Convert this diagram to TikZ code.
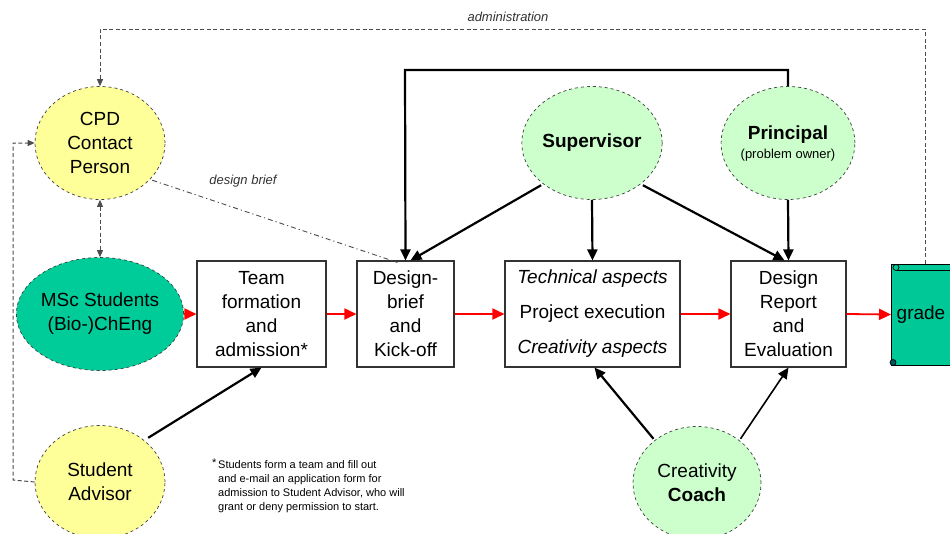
\documentclass[tikz,border=0pt]{standalone}
\usepackage{fontspec}
\setmainfont{Liberation Sans}
\usetikzlibrary{arrows.meta,shapes.geometric}

\definecolor{cpdyellow}{HTML}{FFFF99}
\definecolor{mscteal}{HTML}{00CC99}
\definecolor{paleleaf}{HTML}{CCFFCC}
\definecolor{scrollteal}{HTML}{00C896}

\begin{document}
\begin{tikzpicture}[x=1pt,y=-1pt,
  bubble/.style={ellipse, draw=black!75, dashed, line width=0.7pt,
    minimum width=130pt, minimum height=113pt, inner sep=0pt, align=center,
    font=\fontsize{19}{24}\selectfont},
  stagebox/.style={rectangle, draw=black!80, line width=1.1pt, fill=white,
    inner sep=0pt, align=center, minimum height=106pt,
    font=\fontsize{19}{24}\selectfont},
  flow/.style={draw=red, line width=1.8pt, -{Triangle[length=12pt,width=11pt]}},
  push/.style={draw=black, line width=2.2pt, -{Triangle[length=11pt,width=10pt]}},
  admin/.style={draw=black!70, line width=0.8pt, dash pattern=on 4pt off 2.5pt},
  smalltip/.style={-{Triangle[length=7pt,width=6pt]}},
  note/.style={font=\fontsize{13}{15}\selectfont\itshape, text=black!80}
]
\useasboundingbox (0,0) rectangle (950,533);

% people
\node[bubble, fill=cpdyellow] (cpd) at (100,143) {CPD\\Contact\\Person};
\node[bubble, fill=mscteal] (msc) at (100,314) {MSc Students\\(Bio-)ChEng};
\node[bubble, fill=cpdyellow] (adv) at (100,482) {Student\\Advisor};
\node[bubble, fill=paleleaf] (sup) at (592,143) {\textbf{Supervisor}};
\node[bubble, fill=paleleaf] (prin) at (788,143)
  {\textbf{Principal}\\[-5pt]{\fontsize{13}{15}\selectfont (problem owner)}};
\node[bubble, fill=paleleaf, minimum width=128pt] (coach) at (697,483)
  {Creativity\\\textbf{Coach}};

% stages of the project
\node[stagebox, minimum width=129pt] (team) at (261.5,314)
  {Team\\formation\\and\\admission*};
\node[stagebox, minimum width=97pt] (brief) at (405.5,314)
  {Design-\\brief\\and\\Kick-off};
\node[stagebox, minimum width=175pt, font=\fontsize{19}{35}\selectfont] (exec) at (592.5,314)
  {\textit{Technical aspects}\\Project execution\\\textit{Creativity aspects}};
\node[stagebox, minimum width=115pt] (report) at (788.5,314)
  {Design\\Report\\and\\Evaluation};

% grade certificate (scroll)
\node[rectangle, draw=black, line width=1pt, fill=scrollteal, minimum width=66pt,
  minimum height=101pt, inner sep=0pt, anchor=west,
  font=\fontsize{19}{24}\selectfont] (grade) at (891,314.5) {\hspace*{-7pt}grade};
\draw[black, line width=0.7pt] ([xshift=6pt,yshift=-7pt]grade.north west) -- ([yshift=-7pt]grade.north east);
\draw[black, line width=0.7pt, fill=scrollteal] ([xshift=5pt,yshift=-4pt]grade.north west) circle (3pt);
\draw[black, line width=0.7pt, fill=teal!70!black] ([xshift=2pt,yshift=3pt]grade.south west) circle (3pt);

% main flow
\draw[flow] (msc.east) -- (team.west);
\draw[flow] (team.east) -- (brief.west);
\draw[flow] (brief.east) -- (exec.west);
\draw[flow] (exec.east) -- (report.west);
\draw[flow] (report.east) -- (grade.west);

% supervision and feedback
\coordinate (loopR) at (788,70);
\coordinate (loopL) at (405,70);
\draw[push] (prin.north) -- (loopR) -- (loopL) -- (brief.north);
\draw[push] (sup.south west) ++(-1,2) -- ([xshift=5pt]brief.north);
\draw[push] (sup.south) -- (exec.north);
\draw[push] (sup.south east) ++(1,2) -- ([xshift=-4pt]report.north);
\draw[push] (prin.south) -- (report.north);
\draw[push] (coach.north west) ++(2,-4) -- ([xshift=2pt]exec.south);
\draw[push, line width=1.6pt] (coach.north east) ++(-2,-4) -- (report.south);
\draw[push] (adv.north east) ++(2,-4) -- (team.south);

% administration link
\coordinate (admR) at (925,29);
\coordinate (admL) at (100,29);
\draw[admin, smalltip] (grade.north -| admR) -- (admR) -- (admL) -- (cpd.north);
\node[note] (admlabel) at (508,17) {administration};

% contact between CPD person and students, and advisor
\draw[admin, {Triangle[length=7pt,width=6pt]}-{Triangle[length=7pt,width=6pt]}]
  (cpd.south) -- (msc.north);
\coordinate (advL) at (13,480);
\coordinate (cpdL) at (13,143);
\draw[admin, line width=1pt, smalltip] (adv.west) -- (advL) -- (cpdL) -- (cpd.west);

% design brief hand-over
\draw[black!70, line width=0.9pt, dash pattern=on 5pt off 3pt on 1.2pt off 3pt]
  (cpd.south east) ++(6,-3) -- ([xshift=-8pt,yshift=-2pt]brief.north);
\node[note] (brieflabel) at (243,181) {design brief};

% footnote
\node[anchor=north west, align=left, inner sep=0pt,
  font=\fontsize{11}{13.8}\selectfont] (foot) at (218,459)
  {\llap{\raisebox{2pt}{*}\,}Students form a team and fill out\\
   and e-mail an application form for\\
   admission to Student Advisor, who will\\
   grant or deny permission to start.};
\end{tikzpicture}
\end{document}
